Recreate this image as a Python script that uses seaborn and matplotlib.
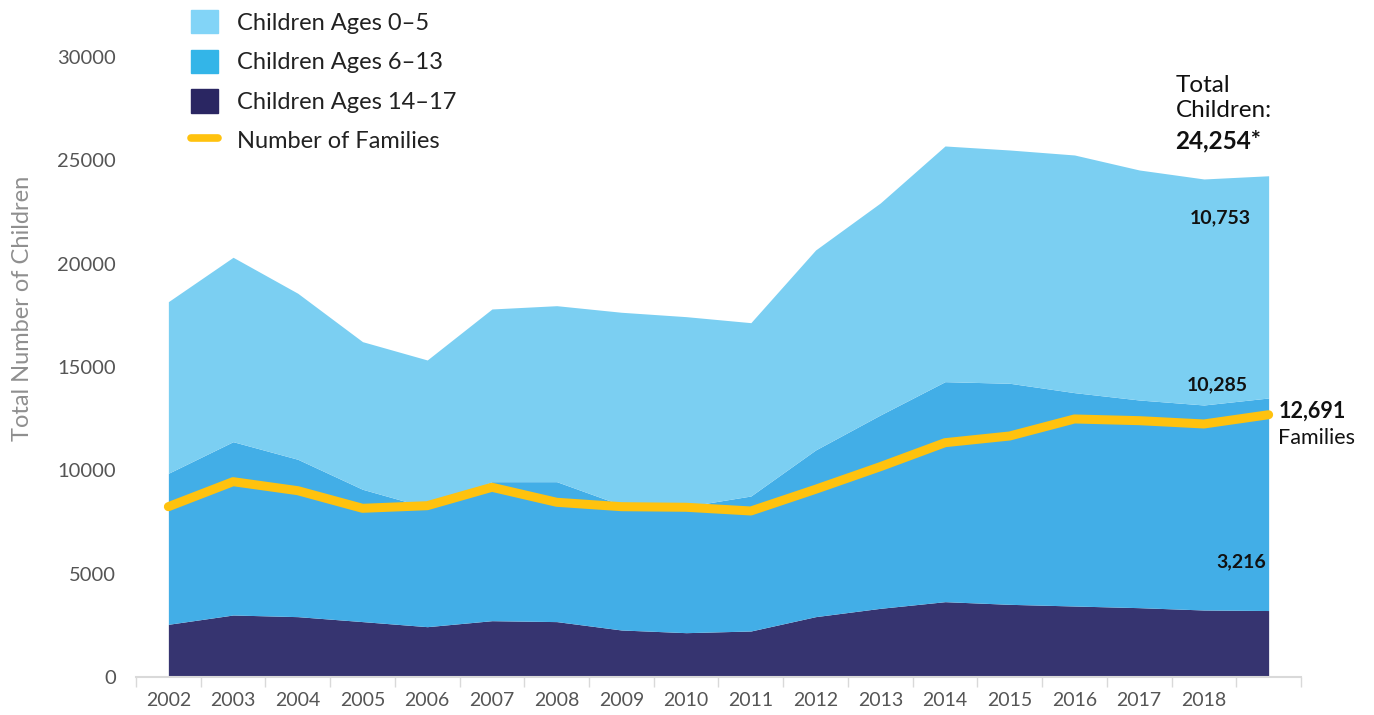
import matplotlib
matplotlib.use("Agg")
import matplotlib.pyplot as plt
import matplotlib.patches as mpatches
import matplotlib.lines as mlines
import seaborn as sns
import numpy as np
import pandas as pd

# Years on the axis (last point has no label)
years = list(range(2002, 2020))
tick_labels = [str(y) for y in range(2002, 2019)]

# Children by age group (stacked)
ages_14_17 = [2550, 3000, 2920, 2680, 2435, 2725, 2680, 2275, 2145, 2226,
              2920, 3323, 3645, 3516, 3435, 3355, 3242, 3216]
ages_6_13 = [7307, 8386, 7614, 6403, 5765, 6726, 6771, 6048, 6105, 6532,
             8065, 9355, 10645, 10696, 10324, 10049, 9920, 10285]
ages_0_5 = [8304, 8923, 8033, 7143, 7140, 8357, 8516, 9325, 9186, 8387,
            9677, 10259, 11405, 11288, 11500, 11130, 10936, 10753]

# Number of families
families = [8241, 9451, 9015, 8163, 8289, 9180, 8454, 8241, 8212, 8033,
            9083, 10177, 11338, 11662, 12485, 12403, 12243, 12691]

sns.set_theme(style="white")
plt.rcParams["font.family"] = ["Lato", "DejaVu Sans"]

c_light, c_mid, c_dark = "#7bcff2", "#42aee7", "#363470"
c_yellow = "#ffc20e"

fig = plt.figure(figsize=(13.74, 7.15), dpi=100)
ax = fig.add_axes([136 / 1374, 1 - 677 / 715, 1165 / 1374, 620 / 715])

x = np.arange(len(years))
ax.stackplot(x, ages_14_17, ages_6_13, ages_0_5,
             colors=[c_dark, c_mid, c_light], linewidth=0)

df = pd.DataFrame({"x": x, "families": families})
sns.lineplot(data=df, x="x", y="families", ax=ax, color=c_yellow,
             linewidth=6.5, solid_capstyle="round", solid_joinstyle="round")

ax.set_xlim(-0.5, len(years) - 0.5)
ax.set_ylim(0, 30000)
ax.set_yticks(np.arange(0, 30001, 5000))
ax.set_yticklabels([str(v) for v in range(0, 30001, 5000)])
ax.set_xticks(np.arange(len(tick_labels)))
ax.set_xticklabels(tick_labels)
ax.set_xticks(np.arange(-0.5, len(years)), minor=True)
ax.tick_params(axis="x", which="major", length=0, pad=11, labelsize=14,
               labelcolor="#555555")
ax.tick_params(axis="x", which="minor", length=7, width=1, color="#d9d9d9",
               bottom=True)
ax.tick_params(axis="y", length=0, pad=14.5, labelsize=14.5,
               labelcolor="#555555")
ax.set_xlabel("")
ax.set_ylabel("Total Number of Children", fontsize=17, color="#8f8f8f")
ax.yaxis.set_label_coords((33 - 136) / 1165, (677 - 308) / 620)
ax.grid(False)
for s in ["top", "right", "left"]:
    ax.spines[s].set_visible(False)
ax.spines["bottom"].set_color("#d9d9d9")
ax.spines["bottom"].set_linewidth(1.5)


def yv(py):
    # value for a pixel row of the reference layout
    return 30000 * (677 - py) / 620


# Annotations at the last point
last = len(years) - 1
ax.text(last - 1.44, yv(98), "Total\nChildren:", fontsize=17.5,
        color="#111111", ha="left", va="center", linespacing=1.2,
        clip_on=False)
ax.text(last - 1.44, yv(141), "24,254*", fontsize=17.5,
        fontweight="bold", color="#111111", ha="left", va="center")
ax.text(last - 0.75, yv(218), "10,753", fontsize=14,
        fontweight="bold", color="#111111", ha="center", va="center")
ax.text(last - 0.79, yv(385), "10,285", fontsize=14,
        fontweight="bold", color="#111111", ha="center", va="center")
ax.text(last - 0.43, yv(562), "3,216", fontsize=14,
        fontweight="bold", color="#111111", ha="center", va="center")
ax.text(last + 0.15, yv(411), "12,691", fontsize=15.5,
        fontweight="bold", color="#111111", ha="left", va="center",
        clip_on=False)
ax.text(last + 0.15, yv(438), "Families", fontsize=15.5,
        color="#111111", ha="left", va="center", clip_on=False)

# Legend
handles = [
    mpatches.Patch(color="#82d4f7", label="Children Ages 0\u20135"),
    mpatches.Patch(color="#33b5e8", label="Children Ages 6\u201313"),
    mpatches.Patch(color="#2a2662", label="Children Ages 14\u201317"),
    mlines.Line2D([], [], color=c_yellow, linewidth=5.5,
                  label="Number of Families"),
]
leg = fig.legend(handles=handles, loc="upper left",
                 bbox_to_anchor=(191 / 1374, 1 - 10 / 715), frameon=False,
                 fontsize=17, handlelength=1.15, handleheight=1.15,
                 handletextpad=0.8, labelspacing=0.67, borderaxespad=0,
                 borderpad=0)
for t in leg.get_texts():
    t.set_color("#222222")

fig.savefig("out.png", dpi=100)
